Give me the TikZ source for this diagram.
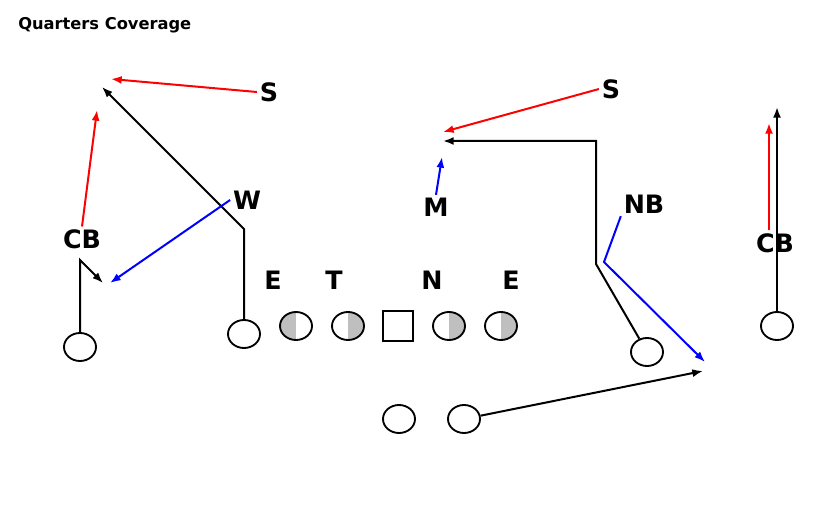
\documentclass[tikz,border=0pt]{standalone}
\usepackage{fontspec}
\setmainfont{DejaVu Sans}
\usepackage{xcolor}
\usetikzlibrary{positioning, arrows.meta, shapes.geometric}

\tikzset{
	player/.style={draw, ellipse, line width=1.4pt, minimum width=24pt, minimum height=21pt, inner sep=0pt},
	snapper/.style={draw, rectangle, line width=1.4pt, minimum size=22pt, inner sep=0pt},
	lefthalf/.style={path picture={\fill[gray!50] (path picture bounding box.south west) rectangle (path picture bounding box.north);}},
	righthalf/.style={path picture={\fill[gray!50] (path picture bounding box.south) rectangle (path picture bounding box.north east);}},
	poslabel/.style={font=\bfseries\fontsize{19}{21}\selectfont, inner sep=2pt},
	route/.style={line width=1.5pt, -{Latex[length=8pt, width=6pt]}},
}

\begin{document}
\begin{tikzpicture}[x=0.75pt, y=-0.75pt]
		\useasboundingbox (0,0) rectangle (820,524);

		% Title
		\node (title) [anchor=west, inner sep=0pt, font=\bfseries\fontsize{12.2}{14}\selectfont] at (18,25) {Quarters Coverage};

		% Offense
		\node (wr_l) [player] at (80,347) {};
		\node (te) [player] at (244,334) {};
		\node (dl_1) [player, lefthalf] at (296,326) {};
		\node (dl_2) [player, righthalf] at (348,326) {};
		\node (ctr) [snapper] at (398,326) {};
		\node (dl_3) [player, righthalf] at (449,326) {};
		\node (dl_4) [player, righthalf] at (501,326) {};
		\node (slot) [player] at (647,352) {};
		\node (wr_r) [player] at (777,326) {};
		\node (qb) [player] at (399,419) {};
		\node (rb) [player] at (464,419) {};

		% Defense
		\node (s_l) [poslabel] at (269,92) {S};
		\node (s_r) [poslabel] at (611,89) {S};
		\node (will) [poslabel] at (247,200) {W};
		\node (mike) [poslabel] at (436,207) {M};
		\node (nb) [poslabel] at (644,204) {NB};
		\node (cb_l) [poslabel] at (82,239) {CB};
		\node (cb_r) [poslabel] at (775,243) {CB};
		\node (de_l) [poslabel] at (273,280) {E};
		\node (dt) [poslabel] at (334,280) {T};
		\node (nt) [poslabel] at (432,280) {N};
		\node (de_r) [poslabel] at (511,280) {E};

		% Route ends
		\coordinate (wr_l_brk) at (80,260);
		\coordinate (wr_l_end) at (103,283);
		\coordinate (te_brk) at (244,229);
		\coordinate (te_end) at (102,87);
		\coordinate (slot_brk) at (596,264);
		\coordinate (slot_top) at (596,141);
		\coordinate (slot_end) at (443,141);
		\coordinate (rb_end) at (703,371);
		\coordinate (wr_r_end) at (777,107);

		\coordinate (s_l_end) at (111,79);
		\coordinate (cb_l_end) at (97,110);
		\coordinate (will_end) at (110,283);
		\coordinate (mike_end) at (442,157);
		\coordinate (s_r_end) at (443,132);
		\coordinate (nb_brk) at (604,262);
		\coordinate (nb_end) at (705,362);
		\coordinate (cb_r_end) at (769,123);

		% Offense routes
		\draw[route] (wr_l.north) -- (wr_l_brk) -- (wr_l_end);
		\draw[route] (te.north) -- (te_brk) -- (te_end);
		\draw[route] (slot) -- (slot_brk) -- (slot_top) -- (slot_end);
		\draw[route] (rb) -- (rb_end);
		\draw[route] (wr_r.north) -- (wr_r_end);

		% Red: deep quarters
		\draw[route, red] (s_l.west) -- (s_l_end);
		\draw[route, red] (cb_l.north) -- (cb_l_end);
		\draw[route, red] (s_r.west) -- (s_r_end);
		\draw[route, red] ([xshift=-4.5pt]cb_r.north) -- (cb_r_end);

		% Blue: underneath
		\draw[route, blue] (will.west) -- (will_end);
		\draw[route, blue] (mike.north) -- (mike_end);
		\draw[route, blue] (nb.south west) -- (nb_brk) -- (nb_end);

	\end{tikzpicture}
\end{document}
